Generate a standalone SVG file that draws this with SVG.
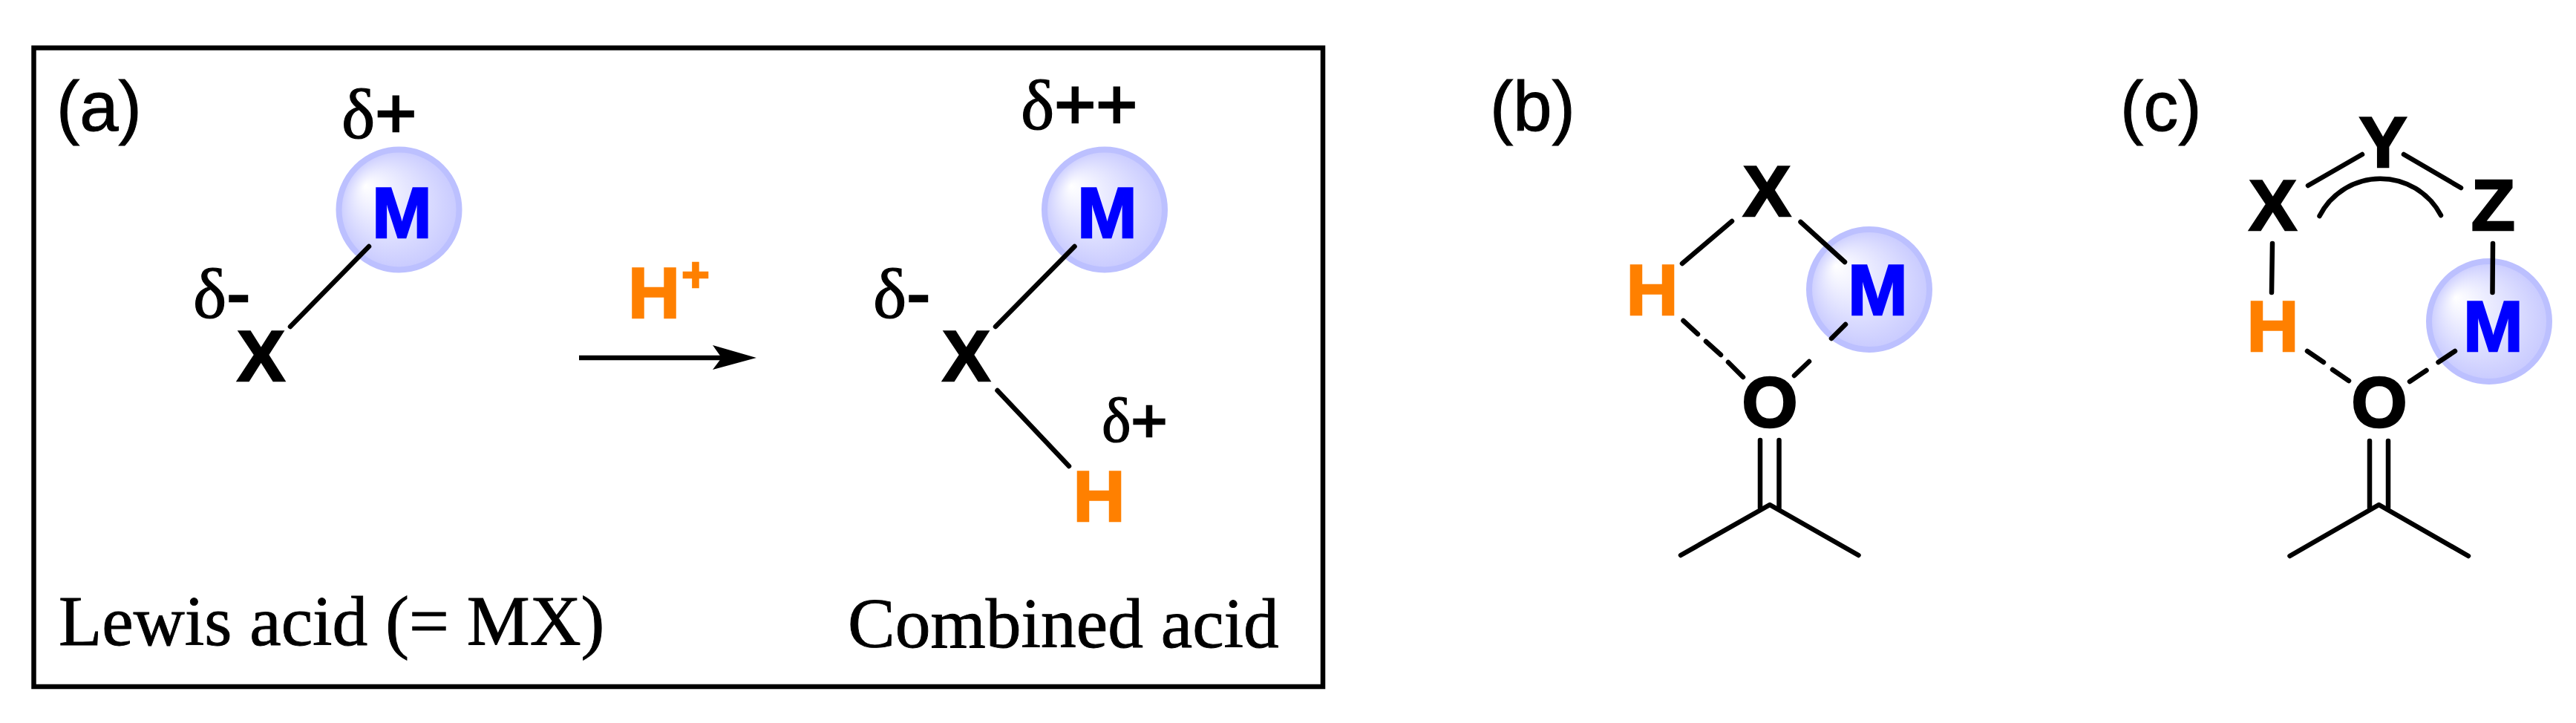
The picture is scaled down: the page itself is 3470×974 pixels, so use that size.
<svg xmlns="http://www.w3.org/2000/svg" width="3470" height="974" viewBox="0 0 3470 974">
<style>
.a{font-family:"Liberation Sans",Arial,sans-serif;font-weight:700;font-size:97px;text-anchor:middle;stroke-width:2.5}
.k{fill:#000;stroke:#000}.o{fill:#ff8000;stroke:#ff8000}.b{fill:#0000ff;stroke:#0000ff}
.l{font-family:"Liberation Sans",Arial,sans-serif;font-size:94px;fill:#000;stroke:#000;stroke-width:1}
.t{font-family:"Liberation Serif","Times New Roman",serif;font-size:95.5px;fill:#000;stroke:#000;stroke-width:.9}
.d{font-family:"Liberation Serif","Times New Roman",serif;font-size:96px;fill:#000;stroke:#000;stroke-width:1.2}
.p{font-family:"Liberation Sans",Arial,sans-serif;stroke-width:2.5}
.c{fill:url(#g);stroke:#bcc0ff;stroke-width:8}
.n{fill:none;stroke:#000;stroke-width:6.5;stroke-linecap:round;stroke-linejoin:round}
</style>
<defs>
<radialGradient id="g" cx="50%" cy="50%" r="50%" fx="22%" fy="30%">
<stop offset="0" stop-color="#ffffff"/>
<stop offset="1" stop-color="#c8caff"/>
</radialGradient>
<marker id="ah" markerUnits="userSpaceOnUse" markerWidth="60" markerHeight="34" refX="30" refY="17" orient="auto">
<path d="M0 0L59 17L0 33L12 17Z" fill="#000"/>
</marker>
</defs>
<rect id="frame" x="45.5" y="64.5" width="1736.5" height="860.5" fill="none" stroke="#000" stroke-width="6.5"/>
<g id="circles">
<circle class="c" cx="537.5" cy="282.5" r="81"/>
<circle class="c" cx="1488" cy="282.5" r="81"/>
<circle class="c" cx="2518" cy="390" r="81"/>
<circle class="c" cx="3353" cy="433" r="81"/>
</g>
<g id="connectors" class="n">
<path d="M497 332L391 440"/>
<path d="M780 482H990" marker-end="url(#ah)" stroke-linecap="butt"/>
<path d="M1447.5 332L1341 440"/>
<path d="M1343.5 526L1440 628"/>
<path d="M2333 298L2266 355"/>
<path d="M2425.500 299L2485 353"/>
<path d="M2267.500 432L2287 450M2298 460L2318 478M2328 488L2348 508"/>
<path d="M2486 437L2467 456M2437 487L2417 506"/>
<path d="M2371 593V684M2396.500 593V684"/>
<path d="M2264 748L2384 680L2503.500 748"/>
<path d="M3109 250L3182 208"/>
<path d="M3238 208L3315 253"/>
<path d="M3124.500 291A92 92 0 0 1 3288 290"/>
<path d="M3061 328L3060 394"/>
<path d="M3358 328L3357.500 394"/>
<path d="M3108 473L3130 488M3142 498L3164 513"/>
<path d="M3307 473L3284.500 488M3268.500 499L3246 514"/>
<path d="M3192 594V684M3217 594V684"/>
<path d="M3084.500 749L3204.500 680L3325 749"/>
</g>
<g id="panel-a">
<text class="l" x="76" y="176">(a)</text>
<text class="d" x="460" y="186">δ<tspan class="p">+</tspan></text>
<text class="d" x="260" y="428">δ<tspan class="p">-</tspan></text>
<text class="t" x="79" y="869">Lewis acid (= MX)</text>
</g>
<g id="a-M"><text class="a b" x="541.500" y="320">M</text></g>
<g id="a-X"><text class="a k" x="351.500" y="513">X</text></g>
<g id="reagent"><text class="a o" x="881" y="428">H</text><text class="a o" x="937" y="392" style="font-size:64px">+</text></g>
<g id="panel-a-right">
<text class="d" x="1375" y="174">δ<tspan class="p">++</tspan></text>
<text class="d" x="1176" y="428">δ<tspan class="p">-</tspan></text>
<text class="d" x="1484" y="595" style="font-size:84px">δ<tspan class="p">+</tspan></text>
<text class="t" x="1142" y="872">Combined acid</text>
</g>
<g id="a2-M"><text class="a b" x="1491.500" y="320">M</text></g>
<g id="a2-X"><text class="a k" x="1301.500" y="513">X</text></g>
<g id="a2-H"><text class="a o" x="1480.500" y="702">H</text></g>
<g id="panel-b">
<text class="l" x="2007" y="175.500">(b)</text>
<g id="b-X"><text class="a k" x="2380" y="291">X</text></g>
<g id="b-H"><text class="a o" x="2225.500" y="424">H</text></g>
<g id="b-M"><text class="a b" x="2529.500" y="424">M</text></g>
<g id="b-O"><text class="a k" x="2384" y="575">O</text></g>
</g>
<g id="panel-c">
<text class="l" x="2856" y="175.500">(c)</text>
<g id="c-Y"><text class="a k" x="3210" y="225">Y</text></g>
<g id="c-X"><text class="a k" x="3061.500" y="310">X</text></g>
<g id="c-Z"><text class="a k" x="3358.500" y="310">Z</text></g>
<g id="c-H"><text class="a o" x="3061.500" y="472.500">H</text></g>
<g id="c-M"><text class="a b" x="3358.500" y="472.500">M</text></g>
<g id="c-O"><text class="a k" x="3205" y="575">O</text></g>
</g>
</svg>
